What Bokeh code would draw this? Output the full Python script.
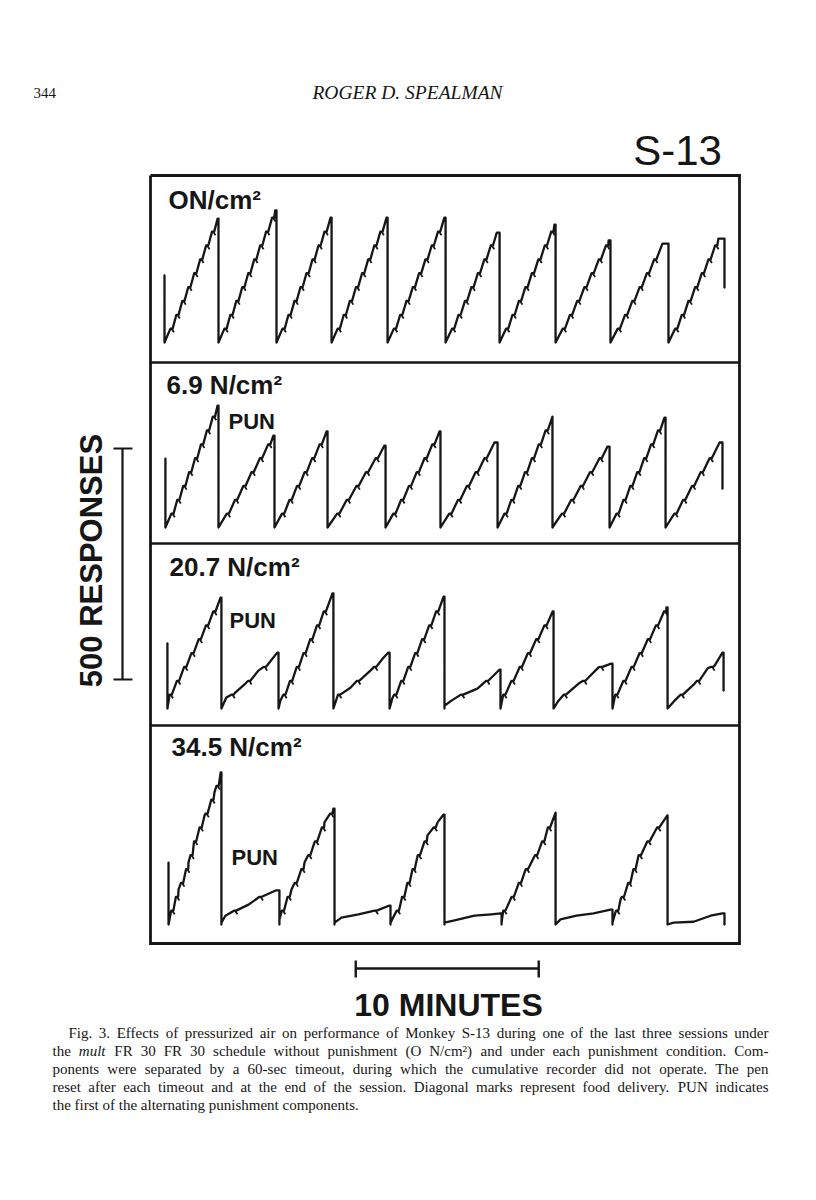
import math
from bokeh.plotting import figure
from bokeh.models import Range1d
from bokeh.core.properties import value
from bokeh.embed import file_html
from bokeh.resources import INLINE

# ------------------------------------------------------------------ data
PANEL_LABELS = ["ON/cm²", "6.9 N/cm²", "20.7 N/cm²", "34.5 N/cm²"]
PUN_LABEL = "PUN"
PUN_IN_PANEL = [False, True, True, True]
FR = 30  # fixed-ratio value (food delivery every 30 responses)

# pen-reset times (minutes, common session clock)
P1_RESETS = [0.00, 2.95, 6.12, 9.13, 12.19, 15.36, 18.31, 21.37, 24.37, 27.54, 30.60]
P2_RESETS = [0.05, 2.95, 6.01, 8.91, 12.08, 15.08, 18.20, 21.20, 24.32, 27.38, 30.49]
P3_RESETS = [0.16, 3.11, 6.23, 9.23, 12.30, 15.30, 18.36, 21.26, 24.48, 27.49, 30.55]
P4_RESETS = [0.22, 3.11, 6.28, 9.29, 12.35, 15.30, 18.42, 21.37, 24.48, 27.49, 30.60]

# cumulative-record read points per component: (minutes into component, responses)
P1_KNOTS = [
    [(0, 0), (2.90, 268)], [(0, 0), (3.10, 286)], [(0, 0), (2.95, 270)],
    [(0, 0), (3.00, 270)], [(0, 0), (3.10, 270)], [(0, 0), (2.80, 238)],
    [(0, 0), (3.00, 255)], [(0, 0), (2.90, 221)], [(0, 0), (2.84, 214)],
    [(0, 0), (2.73, 225)],
]
P2_KNOTS = [
    [(0, 0), (2.85, 264)], [(0, 0), (3.00, 199)], [(0, 0), (2.85, 208)],
    [(0, 0), (3.10, 177)], [(0, 0), (2.95, 208)], [(0, 0), (2.95, 184)],
    [(0, 0), (3.00, 240)], [(0, 0), (3.00, 175)], [(0, 0), (3.00, 238)],
    [(0, 0), (2.95, 184)],
]
P3_KNOTS = [
    [(0, 0), (0.12, 30), (2.90, 240)],
    [(0, 0), (0.27, 24), (0.77, 35), (1.31, 54), (2.02, 82), (2.57, 97), (3.05, 121)],
    [(0, 0), (0.10, 17), (2.95, 249)],
    [(0, 0), (0.27, 32), (0.93, 45), (1.31, 61), (2.02, 82), (2.73, 110), (3.00, 121)],
    [(0, 0), (0.15, 22), (2.95, 242)],
    [(0, 6), (0.38, 17), (0.98, 32), (1.80, 43), (2.30, 61), (3.00, 84)],
    [(0, 0), (0.15, 30), (2.85, 210)],
    [(0, 0), (0.27, 17), (0.60, 32), (1.37, 54), (1.91, 67), (2.46, 89), (3.15, 97)],
    [(0, 0), (0.15, 30), (2.95, 219)],
    [(0, 0), (0.38, 17), (0.77, 32), (1.48, 54), (2.19, 87), (2.57, 93), (3.00, 121)],
]
P4_KNOTS = [
    [(0, 0), (0.16, 33), (0.55, 76), (1.09, 134), (1.42, 184), (1.97, 236), (2.51, 286), (2.85, 329)],
    [(0, 4), (0.22, 19), (0.77, 32), (1.48, 43), (2.19, 63), (3.00, 74)],
    [(0, 11), (0.22, 43), (0.66, 76), (1.37, 134), (1.91, 177), (2.46, 221), (2.95, 251)],
    [(0, 4), (0.38, 15), (1.31, 22), (2.19, 30), (3.00, 41)],
    [(0, 4), (0.38, 33), (0.93, 91), (1.48, 149), (2.02, 193), (2.57, 221), (2.90, 238)],
    [(0, 4), (0.55, 9), (1.64, 19), (2.57, 22), (3.06, 24)],
    [(0, 4), (0.10, 33), (0.60, 63), (1.31, 119), (1.86, 152), (2.24, 182), (2.57, 214), (2.95, 242)],
    [(0, 0), (0.27, 11), (1.15, 19), (2.08, 24), (3.00, 32)],
    [(0, 4), (0.16, 26), (0.44, 54), (0.87, 91), (1.42, 149), (1.97, 184), (2.51, 214), (3.00, 236)],
    [(0, 0), (0.33, 4), (1.42, 6), (2.35, 19), (3.00, 24)],
]
START_PEN = [145, 149, 141, 134]   # responses, pen position at session start
END_PEN = [119, 84, 39, 0]         # responses, pen position after final reset

SCALE_RESPONSES = 500
SCALE_MINUTES = 10

HEADER_PAGE = "344"
HEADER_AUTHOR = "ROGER D. SPEALMAN"
SUBJECT = "S-13"
Y_SCALE_LABEL = "500 RESPONSES"
X_SCALE_LABEL = "10 MINUTES"
CAPTION_LINES = [
    "Fig. 3. Effects of pressurized air on performance of Monkey S-13 during one of the last three sessions under",
    "the mult FR 30 FR 30 schedule without punishment (O N/cm²) and under each punishment condition. Com-",
    "ponents were separated by a 60-sec timeout, during which the cumulative recorder did not operate. The pen",
    "reset after each timeout and at the end of the session. Diagonal marks represent food delivery. PUN indicates",
    "the first of the alternating punishment components.",
]
ITALIC_WORDS = {"mult"}

# ------------------------------------------------------------------ layout (page pixels)
W, H = 800, 1190
X0_PAGE = 164.0        # page x of minute 0
PX_PER_MIN = 18.3
PX_PER_RESP = 0.462
BASELINES = [342, 527, 708, 924]
BOX = (150, 739, 175, 943)
DIVIDERS = [362, 543, 725]
LABEL_POS = [(168, 199), (166, 384), (169, 566), (171, 746)]
PUN_POS = [None, (228, 421), (229, 620), (231, 857)]
YBAR_X, YBAR_BOTTOM = 122, 679
XBAR_START_MIN, XBAR_Y = 10.45, 968
INK = "#161616"

LEDGE = 0.12
PIP_DT, PIP_DN = 0.13, 8

p = figure(width=W, height=H, output_backend="svg", toolbar_location=None,
           x_range=Range1d(0, W), y_range=Range1d(H, 0),
           x_axis_location=None, y_axis_location=None, min_border=0)
p.outline_line_color = None
p.background_fill_color = "white"
for g in p.grid:
    g.visible = False


def resp_range(base):
    return Range1d((base - H) / PX_PER_RESP, base / PX_PER_RESP)


p.extra_x_ranges = {"min": Range1d(-X0_PAGE / PX_PER_MIN, (W - X0_PAGE) / PX_PER_MIN)}
yr = {f"r{i}": resp_range(b) for i, b in enumerate(BASELINES)}
yr["bar"] = resp_range(YBAR_BOTTOM)
p.extra_y_ranges = yr


def trace(resets, knots, start_pen, end_pen):
    xs = [resets[0], resets[0]]
    ys = [start_pen, 0]
    pips = ([], [], [], [])
    n_comp = len(knots)
    for i, kn in enumerate(knots):
        s, e = resets[i], resets[i + 1]
        pts = [(s + t, n) for t, n in kn]
        t_last, n_last = pts[-1]
        cross = []
        for (t0, n0), (t1, n1) in zip(pts[:-1], pts[1:]):
            k = math.floor(n0 / FR) + 1
            while k * FR <= n1:
                c = k * FR
                if c < n_last - 4:
                    tc = t0 + (t1 - t0) * (c - n0) / (n1 - n0)
                    if tc + LEDGE < t_last:
                        cross.append((tc, c))
                k += 1
        seq = [q for q in pts if not any(tc < q[0] < tc + LEDGE for tc, _ in cross)]
        for tc, c in cross:
            seq += [(tc, c), (tc + LEDGE, c)]
            pips[0].append(tc + LEDGE * 0.5)
            pips[1].append(c)
            pips[2].append(tc + LEDGE * 0.5 + PIP_DT)
            pips[3].append(c - PIP_DN)
        seq.sort(key=lambda q: (q[0], q[1]))
        xs += [q[0] for q in seq]
        ys += [q[1] for q in seq]
        if t_last < e:
            xs.append(e)
            ys.append(n_last)
        xs.append(e)
        ys.append(0 if i < n_comp - 1 else end_pen)
    return xs, ys, pips


ALL_RESETS = [P1_RESETS, P2_RESETS, P3_RESETS, P4_RESETS]
ALL_KNOTS = [P1_KNOTS, P2_KNOTS, P3_KNOTS, P4_KNOTS]
for i in range(4):
    xs, ys, pips = trace(ALL_RESETS[i], ALL_KNOTS[i], START_PEN[i], END_PEN[i])
    p.line(xs, ys, x_range_name="min", y_range_name=f"r{i}", line_color=INK,
           line_width=2.3, line_join="round", line_cap="round")
    p.segment(pips[0], pips[1], pips[2], pips[3], x_range_name="min", y_range_name=f"r{i}",
              line_color=INK, line_width=1.8)

# frame
l, r, t, b = BOX
p.line([l, r, r, l, l], [t, t, b, b, t], line_color=INK, line_width=2.8, line_join="miter")
p.segment([l] * 3, DIVIDERS, [r] * 3, DIVIDERS, line_color=INK, line_width=2.4)


def txt(x, y, s, size, font="Liberation Sans", style="normal", align="left",
        baseline="middle", angle=0.0):
    p.text(x=[x], y=[y], text=[s], text_font=value(font), text_font_size=f"{size}px",
           text_font_style=style, text_align=align, text_baseline=baseline,
           angle=angle, text_color=INK)


for i, lab in enumerate(PANEL_LABELS):
    txt(LABEL_POS[i][0], LABEL_POS[i][1], lab, 26, style="bold")
    if PUN_IN_PANEL[i]:
        txt(PUN_POS[i][0], PUN_POS[i][1], PUN_LABEL, 22, style="bold")

# response scale bar
p.segment([YBAR_X], [0], [YBAR_X], [SCALE_RESPONSES], y_range_name="bar",
          line_color=INK, line_width=2.2)
p.segment([YBAR_X - 9, YBAR_X - 9], [0, SCALE_RESPONSES], [YBAR_X + 10, YBAR_X + 10],
          [0, SCALE_RESPONSES], y_range_name="bar", line_color=INK, line_width=2.2)
txt(91, 560, Y_SCALE_LABEL, 31, style="bold", align="center", angle=math.pi / 2)

# time scale bar
xb0, xb1 = XBAR_START_MIN, XBAR_START_MIN + SCALE_MINUTES
p.segment([xb0], [XBAR_Y], [xb1], [XBAR_Y], x_range_name="min", line_color=INK, line_width=2.4)
p.segment([xb0, xb1], [XBAR_Y - 8, XBAR_Y - 8], [xb0, xb1], [XBAR_Y + 9, XBAR_Y + 9],
          x_range_name="min", line_color=INK, line_width=2.4)
txt(448, 1004, X_SCALE_LABEL, 32, style="bold", align="center")

# header
txt(33, 92, HEADER_PAGE, 15, font="Liberation Serif")
txt(407, 92, HEADER_AUTHOR, 19.5, font="Liberation Serif", style="italic", align="center")
txt(677, 150, SUBJECT, 42, align="center")

# caption (justified, word by word)
TW = {}
for chars, w in [(" .,:;'", 0.25), ("ijlt/", 0.278), ("fr()-I²", 0.333), ("sJ", 0.389),
                 ("acez", 0.444), ("bdghknopquvxy0123456789", 0.5), ("SFP", 0.556),
                 ("ELTZ", 0.611), ("BCR", 0.667), ("wADGHKNOQUVXY", 0.722), ("m", 0.778),
                 ("M", 0.889), ("W", 0.944)]:
    for ch in chars:
        TW[ch] = w
CAP_SIZE = 15
CAP_X0 = [68, 52, 52, 52, 52]
CAP_X1 = 768
CAP_Y = [1032, 1050, 1068, 1086, 1104]


def wwidth(wd):
    return sum(TW.get(ch, 0.5) for ch in wd) * CAP_SIZE


for li, line in enumerate(CAPTION_LINES):
    words = line.split(" ")
    widths = [wwidth(wd) for wd in words]
    last = li == len(CAPTION_LINES) - 1
    gap = 0.25 * CAP_SIZE if last else (CAP_X1 - CAP_X0[li] - sum(widths)) / (len(words) - 1)
    x = CAP_X0[li]
    for wi, wd in enumerate(words):
        style = "italic" if wd in ITALIC_WORDS else "normal"
        if wi == len(words) - 1 and not last:
            txt(CAP_X1, CAP_Y[li], wd, CAP_SIZE, font="Liberation Serif", style=style, align="right")
        else:
            txt(x, CAP_Y[li], wd, CAP_SIZE, font="Liberation Serif", style=style)
        x += widths[wi] + gap

open("out.html", "w").write(file_html(p, INLINE))
